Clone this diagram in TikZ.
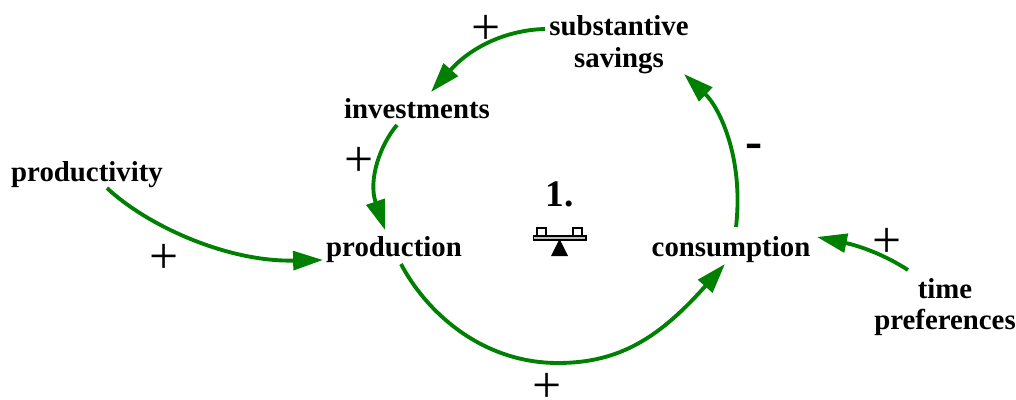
\documentclass[tikz,border=0pt]{standalone}
\usepackage{fontspec}
\setmainfont{Liberation Serif}
\usetikzlibrary{arrows.meta}
\definecolor{linkgreen}{RGB}{0,128,0}
\tikzset{
  varname/.style={font=\bfseries\fontsize{24.6}{27}\selectfont,align=center,inner sep=0pt},
  signname/.style={font=\fontsize{44}{44}\selectfont,inner sep=0pt},
  link/.style={draw=linkgreen,line width=3.3pt,-{Triangle[length=25.5pt,width=16pt,fill=linkgreen]}}
}
\begin{document}
\begin{tikzpicture}[line cap=butt,line join=miter,x=0.03cm,y=-0.03cm]
	\useasboundingbox (0,0) rectangle (1016,400);
	%variables
	\node[varname] (productivity) at (87,175) {productivity};
	\node[varname] (production) at (394,250) {production};
	\node[varname] (investments) at (417,109) {investments};
	\node[varname] (savings) at (619,45) {substantive\\savings};
	\node[varname] (consumption) at (731,250) {consumption};
	\node[varname] (time) at (945,307) {time\\preferences};
	\node[font=\bfseries\fontsize{32}{32}\selectfont,inner sep=0pt] (loopname) at (560,194) {1.};
	%signes
	\node[signname] (plusa) at (164,259) {+};
	\node[signname] (plusb) at (359,162) {+};
	\node[signname] (plusc) at (486,30) {+};
	\node[signname] (plusd) at (547,388) {+};
	\node[signname] (pluse) at (887,243) {+};
	\node[font=\bfseries\fontsize{44}{44}\selectfont,inner sep=0pt] (minus) at (754,151) {-};
	%fleches
	\draw[link] ([shift={(20,13)}]productivity.center) .. controls (145,224) and (225,262) .. ([shift={(-71,10)}]production.center);
	\draw[link] ([shift={(-20,16)}]investments.center) .. controls (380,145) and (368,180) .. ([shift={(-9,-20)}]production.center);
	\draw[link] ([shift={(-74,-16)}]savings.center) .. controls (505,30) and (470,48) .. ([shift={(14,-17)}]investments.center);
	\draw[link] ([shift={(7,14)}]production.center) .. controls (425,310) and (480,363) .. (558,363) .. controls (620,363) and (660,337) .. ([shift={(-6,14)}]consumption.center);
	\draw[link] ([shift={(5,-23)}]consumption.center) .. controls (744,157) and (719,107) .. ([shift={(65,29)}]savings.center);
	\draw[link] ([shift={(-37,-37)}]time.center) .. controls (885,255) and (860,246) .. ([shift={(86,-13)}]consumption.center);
	%balance
	\draw[fill=white,line width=0.9pt] (537,228) rectangle (546,236);
	\draw[fill=white,line width=0.9pt] (573,228) rectangle (582,236);
	\draw[fill=black!25,line width=0.9pt] (533.5,236) rectangle (586,240);
	\fill (559.5,239) -- (551,256) -- (568,256) -- cycle;
\end{tikzpicture}
\end{document}
